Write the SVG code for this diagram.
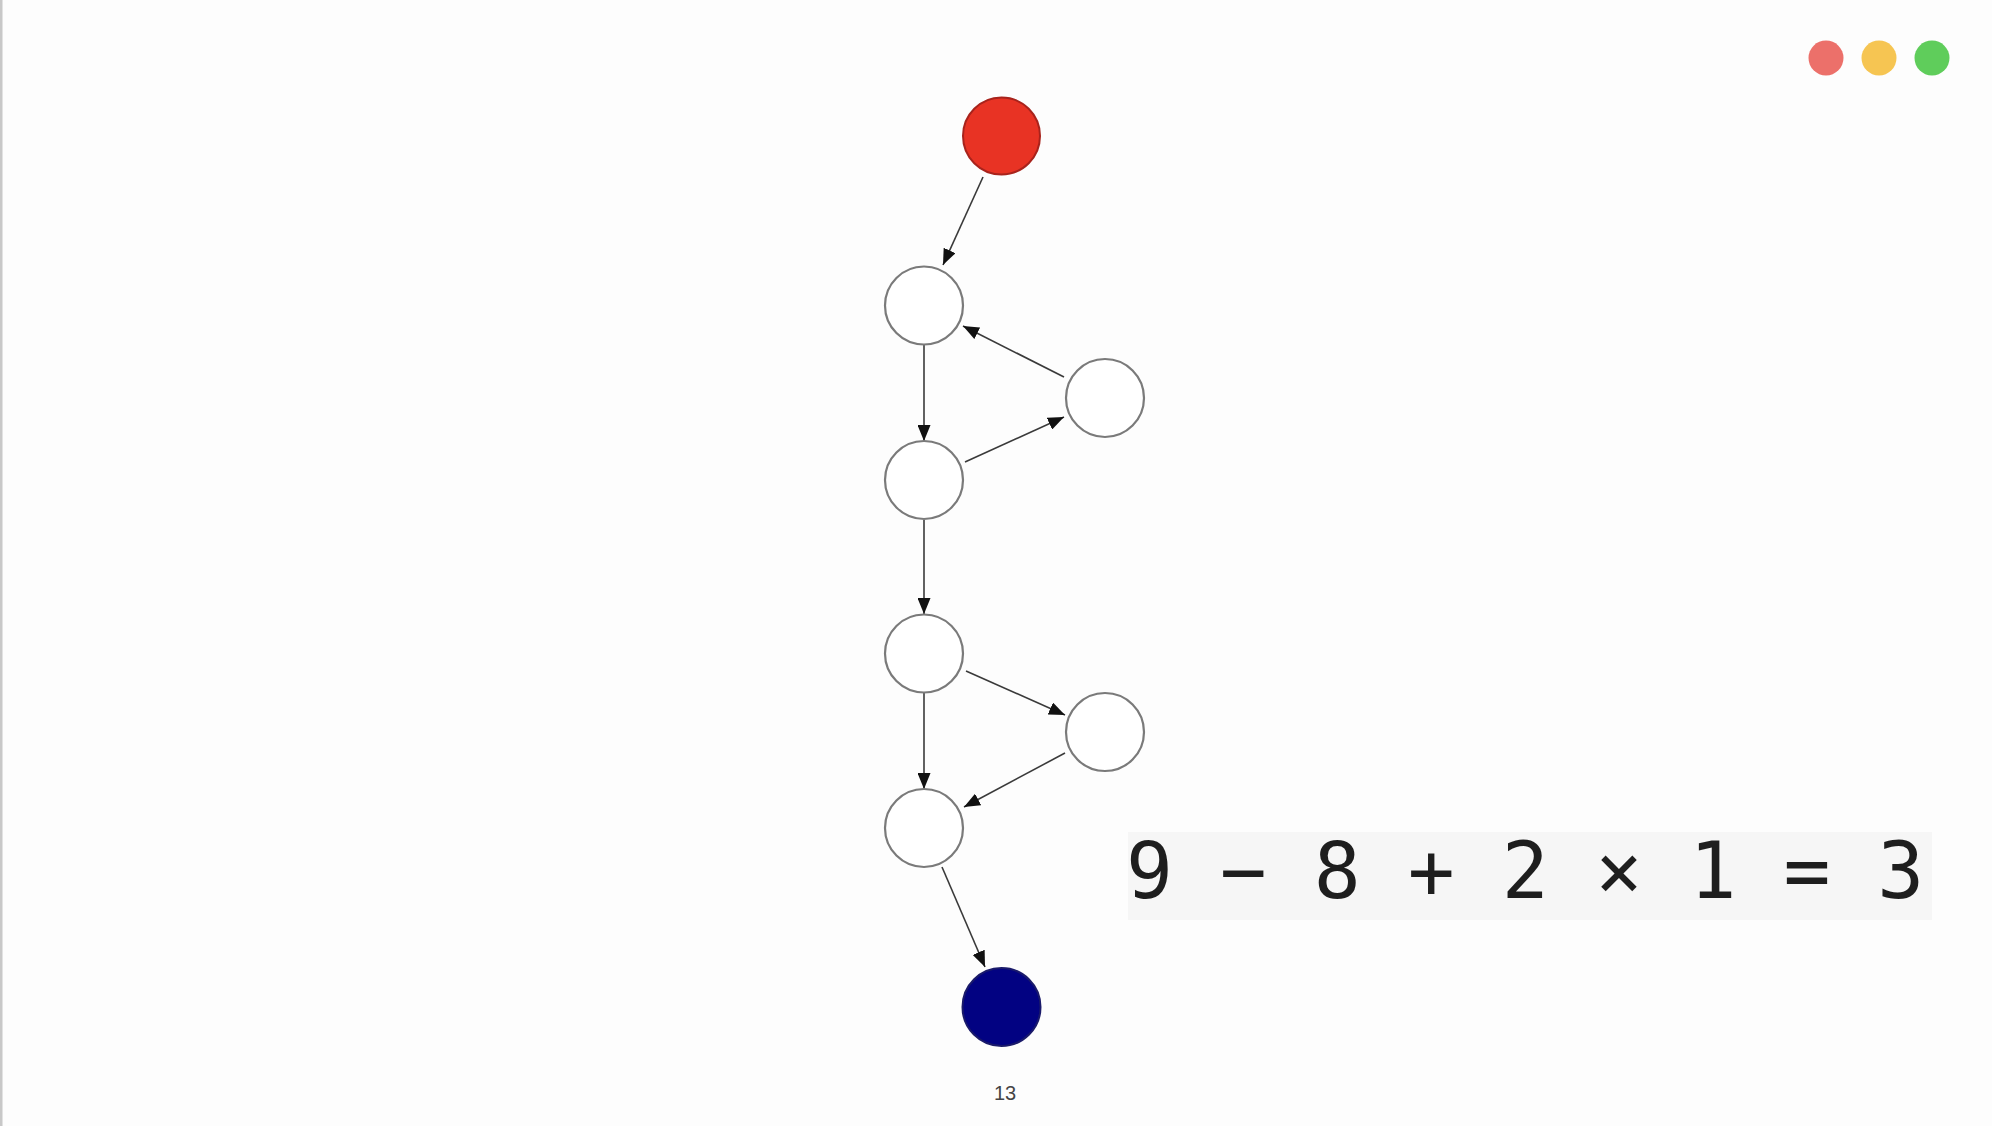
<svg xmlns="http://www.w3.org/2000/svg" width="1992" height="1126" viewBox="0 0 1992 1126">
<style>
.node{fill:#ffffff;stroke:#7a7a7a;stroke-width:2.2}
.edge{stroke:#3a3a3a;stroke-width:1.6;fill:none;marker-end:url(#arr)}
.eq{font-family:"DejaVu Sans Mono",monospace;font-size:78px;fill:#1e1e1e}
.pg{font-family:"Liberation Sans",Arial,sans-serif;font-size:20px;fill:#444}
</style>
<defs>
<marker id="arr" markerUnits="userSpaceOnUse" markerWidth="17" markerHeight="13" refX="16" refY="6.5" orient="auto">
<path d="M0,0 L16,6.5 L0,13 Z" fill="#111"/>
</marker>
</defs>
<rect x="0" y="0" width="1992" height="1126" fill="#fdfdfd"/>
<rect x="0" y="0" width="2.5" height="1126" fill="#c8c8c8"/>
<g id="window-dots">
<circle cx="1826" cy="58" r="17.5" fill="#ec706a"/>
<circle cx="1879" cy="58" r="17.5" fill="#f6c552"/>
<circle cx="1932" cy="58" r="17.5" fill="#5fcd5b"/>
</g>
<g id="connectors">
<line class="edge" x1="983" y1="177" x2="943" y2="265"/>
<line class="edge" x1="924" y1="345" x2="924" y2="441"/>
<line class="edge" x1="965" y1="462" x2="1064" y2="417"/>
<line class="edge" x1="1064" y1="377" x2="963" y2="326"/>
<line class="edge" x1="924" y1="520" x2="924" y2="614"/>
<line class="edge" x1="966" y1="671" x2="1065" y2="715"/>
<line class="edge" x1="924" y1="693" x2="924" y2="789"/>
<line class="edge" x1="1065" y1="753" x2="964" y2="807"/>
<line class="edge" x1="942" y1="867" x2="985" y2="967"/>
</g>
<g id="node-start"><circle cx="1001.5" cy="136" r="38.5" fill="#e83324" stroke="#a8231c" stroke-width="2"/></g>
<g id="node-a"><circle class="node" cx="924" cy="305.5" r="39"/></g>
<g id="node-b"><circle class="node" cx="1105" cy="398" r="39"/></g>
<g id="node-c"><circle class="node" cx="924" cy="480" r="39"/></g>
<g id="node-d"><circle class="node" cx="924" cy="653.5" r="39"/></g>
<g id="node-e"><circle class="node" cx="1105" cy="732" r="39"/></g>
<g id="node-f"><circle class="node" cx="924" cy="828" r="39"/></g>
<g id="node-end"><circle cx="1001.5" cy="1007" r="39" fill="#020282" stroke="#1a1a6a" stroke-width="2"/></g>
<text class="pg" x="1005" y="1100" text-anchor="middle">13</text>
<g id="equation">
<rect x="1128" y="832" width="804" height="88" fill="#f6f6f6"/>
<text class="eq" x="1126" y="898">9 − 8 + 2 × 1 = 3</text>
</g>
</svg>
